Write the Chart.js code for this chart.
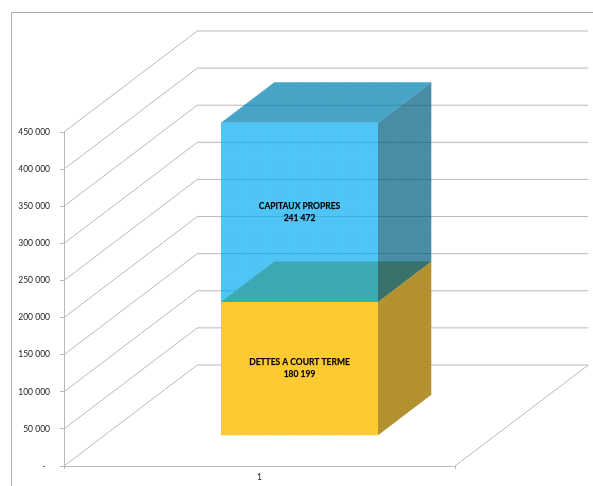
<!DOCTYPE html>
<html>
<head>
<meta charset="utf-8">
<title>Bilan</title>
<script src="https://cdn.jsdelivr.net/npm/chart.js@4"></script>
<style>
    html, body { margin: 0; padding: 0; background: #fff; overflow: hidden; }
    #wrap { position: relative; width: 593px; height: 486px; overflow: hidden; }
    #frame { position: absolute; left: 11px; top: 12px; width: 700px; height: 600px; border: 1px solid #adadad; }
    canvas { position: absolute; left: 0; top: 0; }
</style>
</head>
<body>
<div id="wrap">
    <div id="frame"></div>
    <canvas id="bilanChart" width="593" height="486"></canvas>
</div>
<script>
const categories = ['1'];
const seriesNames = ['DETTES A COURT TERME', 'CAPITAUX PROPRES'];
const dettesValues = [180199];
const capitauxValues = [241472];
const tickValues = [0, 50000, 100000, 150000, 200000, 250000, 300000, 350000, 400000, 450000];

// oblique projection of the Excel 3D box
const wallDx = 133.3, wallDy = 101;
const gap = 0.3, depth = 0.4;
const gridColor = '#b9b9b9';

// the original faces have a fine stippled look
function stipple(color) {
    const c = document.createElement('canvas');
    c.width = c.height = 3;
    const g = c.getContext('2d');
    g.fillStyle = color;
    g.fillRect(0, 0, 3, 3);
    g.fillStyle = 'rgba(0, 40, 70, 0.05)';
    g.fillRect(1, 1, 1, 1);
    return g.createPattern(c, 'repeat');
}

const faces = [
    { front: stipple('rgba(255, 200, 40, 0.95)'), side: stipple('rgb(179, 146, 47)'), top: 'rgb(197, 162, 48)' },
    { front: stipple('rgba(0, 172, 240, 0.69)'), side: stipple('rgba(0, 95, 130, 0.71)'), top: stipple('rgba(0, 130, 178, 0.72)') }
];

function formatNumber(v) {
    if (v === 0) return '-  ';
    return String(v).replace(/\B(?=(\d{3})+$)/g, ' ');
}

function poly(ctx, pts, fill) {
    ctx.beginPath();
    pts.forEach((p, i) => i ? ctx.lineTo(p[0], p[1]) : ctx.moveTo(p[0], p[1]));
    ctx.closePath();
    ctx.fillStyle = fill;
    ctx.fill();
}

const box3d = {
    id: 'box3d',
    beforeDatasetsDraw(chart) {
        const { ctx, scales: { y }, chartArea: a } = chart;

        // left wall, back wall and floor
        ctx.save();
        ctx.strokeStyle = gridColor;
        ctx.lineWidth = 1;
        tickValues.forEach(v => {
            const py = y.getPixelForValue(v);
            ctx.beginPath();
            ctx.moveTo(a.left, py);
            ctx.lineTo(a.left + wallDx, py - wallDy);
            ctx.lineTo(a.right + wallDx, py - wallDy);
            ctx.stroke();
        });
        const y0 = y.getPixelForValue(0);
        ctx.beginPath();
        ctx.moveTo(a.right, y0);
        ctx.lineTo(a.right + wallDx, y0 - wallDy);
        ctx.stroke();

        // side and top faces, the front faces come from the bars
        const sx = wallDx * gap, sy = wallDy * gap;
        const dx = wallDx * depth, dy = wallDy * depth;
        faces.forEach((f, i) => {
            const bar = chart.getDatasetMeta(i).data[0];
            const l = bar.x - bar.width / 2 + sx, r = bar.x + bar.width / 2 + sx;
            const t = bar.y - sy, b = bar.base - sy;
            poly(ctx, [[r, b], [r + dx, b - dy], [r + dx, t - dy], [r, t]], f.side);
            poly(ctx, [[l, t], [r, t], [r + dx, t - dy], [l + dx, t - dy]], f.top);
        });
        ctx.restore();

        ctx.save();
        ctx.translate(sx, -sy);
    },
    afterDatasetsDraw(chart) {
        const { ctx } = chart;
        ctx.restore();

        // data labels: series name and value
        const sx = wallDx * gap, sy = wallDy * gap;
        ctx.save();
        ctx.font = 'bold 8.5px Lato';
        ctx.fillStyle = '#000';
        ctx.strokeStyle = 'rgba(0, 0, 0, 0.6)';
        ctx.lineWidth = 0.25;
        ctx.textAlign = 'center';
        ctx.textBaseline = 'middle';
        chart.data.datasets.forEach((ds, i) => {
            const bar = chart.getDatasetMeta(i).data[0];
            const cx = bar.x + sx, cy = (bar.y + bar.base) / 2 - sy;
            [[seriesNames[i], cy - 6], [formatNumber(ds.data[0]), cy + 6]].forEach(([txt, ty]) => {
                ctx.fillText(txt, cx, ty);
                ctx.strokeText(txt, cx, ty);
            });
        });
        ctx.restore();
    }
};

new Chart(document.getElementById('bilanChart').getContext('2d'), {
    type: 'bar',
    data: {
        labels: categories,
        datasets: [
            { label: seriesNames[0], data: dettesValues, backgroundColor: faces[0].front },
            { label: seriesNames[1], data: capitauxValues, backgroundColor: faces[1].front }
        ]
    },
    options: {
        responsive: false,
        animation: false,
        clip: false,
        categoryPercentage: 1,
        barPercentage: 0.4015,
        layout: { padding: { left: 0, top: 132, right: 138, bottom: 0 } },
        plugins: { legend: { display: false }, tooltip: { enabled: false } },
        scales: {
            x: {
                stacked: true,
                afterFit(s) { s.height = 20; },
                grid: { drawOnChartArea: false, color: gridColor, tickLength: 3, offset: true },
                border: { color: gridColor },
                ticks: { color: '#222', font: { family: 'Lato', size: 8.5 }, padding: 3, maxRotation: 0 }
            },
            y: {
                stacked: true,
                min: 0,
                max: 450000,
                afterFit(s) { s.width = 64; },
                afterBuildTicks(s) { s.ticks = tickValues.map(v => ({ value: v })); },
                grid: { drawOnChartArea: false, color: gridColor, tickLength: 4 },
                border: { color: gridColor },
                ticks: {
                    color: '#222',
                    font: { family: 'Lato', size: 8.5 },
                    padding: 10,
                    callback: v => formatNumber(v)
                }
            }
        }
    },
    plugins: [box3d]
});
</script>
</body>
</html>
